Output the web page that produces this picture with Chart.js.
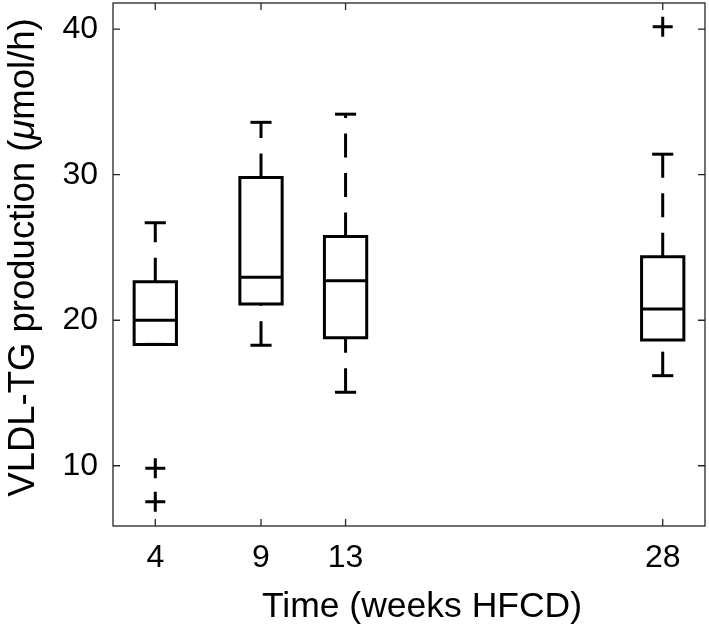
<!DOCTYPE html>
<html><head><meta charset="utf-8">
<script src="https://cdn.jsdelivr.net/npm/chart.js@4.4.0/dist/chart.umd.min.js"></script>
<style>html,body{margin:0;padding:0;background:#fff}#wrap{width:709px;height:626px}</style>
</head><body><div id="wrap"><canvas id="c" width="709" height="626"></canvas></div>
<script>
// ---- data ----
const weeks = [4, 9, 13, 28];
const q1 = [18.34, 21.11, 18.8, 18.64];
const median = [20.0, 22.95, 22.71, 20.77];
const q3 = [22.64, 29.8, 25.76, 24.36];
const whiskerLow = [18.34, 18.28, 15.05, 16.19];
const whiskerHigh = [26.7, 33.6, 34.16, 31.41];
const outlierX = [4, 4, 28];
const outlierY = [9.82, 7.53, 40.16];
const xTicks = [4, 9, 13, 28];
const yTicks = [10, 20, 30, 40];
const xTitle = 'Time (weeks HFCD)';
const yTitleParts = [['VLDL-TG production (', false], ['\u03BC', true], ['mol/h)', false]];

// ---- styling ----
const FONT = "'Liberation Sans', Arial, Helvetica, sans-serif";
const TICK_SIZE = 32, TITLE_SIZE = 35.5, YTITLE_SIZE = 36.5;
const BOX_HALF = 1, CAP_HALF = 0.5, LW = 3;
const DASH = [24, 15.5];

const datasets = [];
const lineDs = (pts, extra) => Object.assign({
  data: pts, showLine: true, pointRadius: 0, pointHoverRadius: 0,
  borderColor: '#000', borderWidth: LW, fill: false, tension: 0,
  borderCapStyle: 'butt', borderJoinStyle: 'miter'
}, extra || {});

weeks.forEach((w, i) => {
  datasets.push(lineDs([
    {x: w - BOX_HALF, y: q1[i]}, {x: w + BOX_HALF, y: q1[i]},
    {x: w + BOX_HALF, y: q3[i]}, {x: w - BOX_HALF, y: q3[i]},
    {x: w - BOX_HALF, y: q1[i]}], {borderCapStyle: 'square'}));
  datasets.push(lineDs([{x: w - BOX_HALF, y: median[i]}, {x: w + BOX_HALF, y: median[i]}]));
  datasets.push(lineDs([{x: w, y: q3[i]}, {x: w, y: whiskerHigh[i]}], {borderDash: DASH}));
  if (whiskerLow[i] < q1[i]) {
    datasets.push(lineDs([{x: w, y: whiskerLow[i]}, {x: w, y: q1[i]}], {borderDash: DASH}));
  }
  datasets.push(lineDs([{x: w - CAP_HALF, y: whiskerHigh[i]}, {x: w + CAP_HALF, y: whiskerHigh[i]}]));
  datasets.push(lineDs([{x: w - CAP_HALF, y: whiskerLow[i]}, {x: w + CAP_HALF, y: whiskerLow[i]}]));
});
datasets.push({
  data: outlierX.map((x, i) => ({x, y: outlierY[i]})),
  showLine: false, pointStyle: 'cross', pointRadius: 10, pointHoverRadius: 10,
  borderColor: '#000', borderWidth: 3, backgroundColor: '#000'
});

const noPad = s => { s.paddingTop = 0; s.paddingBottom = 0; s.paddingLeft = 0; s.paddingRight = 0; };

const framePlugin = {
  id: 'frame',
  afterDraw(chart) {
    const {ctx, chartArea: a, scales: {x, y}} = chart;
    ctx.save();
    ctx.strokeStyle = '#262626';
    ctx.lineWidth = 1.3;
    ctx.strokeRect(a.left, a.top, a.right - a.left, a.bottom - a.top);
    const TL = 7;
    ctx.beginPath();
    xTicks.forEach(v => {
      const px = x.getPixelForValue(v);
      ctx.moveTo(px, a.bottom); ctx.lineTo(px, a.bottom - TL);
      ctx.moveTo(px, a.top); ctx.lineTo(px, a.top + TL);
    });
    yTicks.forEach(v => {
      const py = y.getPixelForValue(v);
      ctx.moveTo(a.left, py); ctx.lineTo(a.left + TL, py);
      ctx.moveTo(a.right, py); ctx.lineTo(a.right - TL, py);
    });
    ctx.stroke();
    ctx.fillStyle = '#000';
    // x-axis title
    ctx.font = TITLE_SIZE + 'px ' + FONT;
    ctx.textAlign = 'center';
    ctx.textBaseline = 'alphabetic';
    ctx.fillText(xTitle, (a.left + a.right) / 2 + 13, 617);
    // y-axis title with italic mu
    const fonts = yTitleParts.map(p => (p[1] ? 'italic ' : '') + YTITLE_SIZE + 'px ' + FONT);
    const widths = yTitleParts.map((p, i) => { ctx.font = fonts[i]; return ctx.measureText(p[0]).width; });
    const total = widths.reduce((s, v) => s + v, 0);
    ctx.translate(34, (a.top + a.bottom) / 2 - 7);
    ctx.rotate(-Math.PI / 2);
    ctx.textAlign = 'left';
    let cx = -total / 2;
    yTitleParts.forEach((p, i) => { ctx.font = fonts[i]; ctx.fillText(p[0], cx, 0); cx += widths[i]; });
    ctx.restore();
  }
};

new Chart(document.getElementById('c'), {
  type: 'scatter',
  data: {datasets},
  options: {
    responsive: false, animation: false, events: [],
    layout: {autoPadding: false, padding: {top: 3, right: 4, left: 0, bottom: 0}},
    plugins: {legend: {display: false}, tooltip: {enabled: false}},
    scales: {
      x: {
        type: 'linear', min: 2, max: 30,
        afterBuildTicks: s => { s.ticks = xTicks.map(v => ({value: v})); },
        afterFit: s => { s.height = 100; noPad(s); },
        grid: {display: false, drawTicks: false}, border: {display: false},
        ticks: {color: '#000', font: {family: FONT, size: TICK_SIZE}, padding: 13, maxRotation: 0, autoSkip: false}
      },
      y: {
        type: 'linear', min: 5.86, max: 41.8,
        afterBuildTicks: s => { s.ticks = yTicks.map(v => ({value: v})); },
        afterFit: s => { s.width = 113; noPad(s); },
        grid: {display: false, drawTicks: false}, border: {display: false},
        ticks: {color: '#000', font: {family: FONT, size: TICK_SIZE}, padding: 15, autoSkip: false}
      }
    }
  },
  plugins: [framePlugin]
});
</script></body></html>
